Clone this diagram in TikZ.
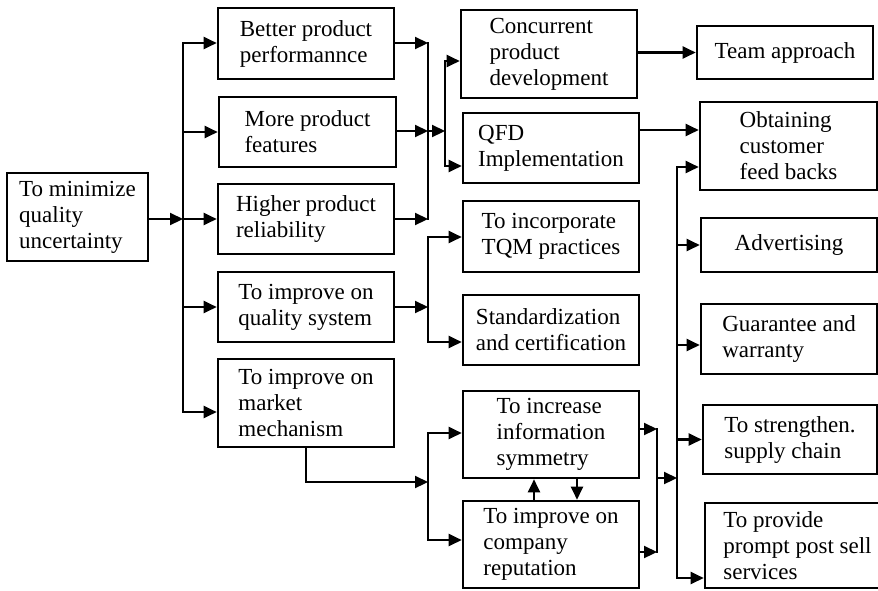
\documentclass[tikz,border=0pt]{standalone}
\usepackage{fontspec}
\setmainfont{Liberation Serif}
\usetikzlibrary{arrows.meta}
\begin{document}
\begin{tikzpicture}[x=1pt,y=-1pt,
  box/.style={draw, line width=2.6pt, inner sep=0pt, align=left,
    font=\fontsize{23}{26}\selectfont},
  link/.style={line width=2.2pt, line cap=rect},
  arr/.style={line width=2.2pt, -{Triangle[length=13pt,width=12pt]}}]
\useasboundingbox (0,0) rectangle (878,590);

% boxes
\node[box, minimum width=141pt, minimum height=88pt] (min) at (77.5,217) {To minimize\\quality\\uncertainty};
\node[box, minimum width=176pt, minimum height=71pt] (better) at (306,43.5) {Better product\\performannce};
\node[box, minimum width=177pt, minimum height=70pt] (more) at (307.5,132) {More product\\features};
\node[box, minimum width=176pt, minimum height=70pt] (higher) at (306,219) {Higher product\\reliability};
\node[box, minimum width=176pt, minimum height=70pt] (quality) at (306,307) {To improve on\\quality system};
\node[box, minimum width=176pt, minimum height=88pt] (market) at (306,403) {To improve on\\market\\mechanism};
\node[box, minimum width=176pt, minimum height=88pt] (conc) at (549,54) {Concurrent\\product\\development};
\node[box, minimum width=176pt, minimum height=70pt] (qfd) at (551,148) {QFD\\Implementation};
\node[box, minimum width=176pt, minimum height=71pt] (tqm) at (551,236.5) {To incorporate\\TQM practices};
\node[box, minimum width=176pt, minimum height=70pt] (std) at (551,330) {Standardization\\and certification};
\node[box, minimum width=176pt, minimum height=87pt] (info) at (551,434.5) {To increase\\information\\symmetry};
\node[box, minimum width=176pt, minimum height=87pt] (comp) at (551,544.5) {To improve on\\company\\reputation};
\node[box, minimum width=176pt, minimum height=53pt] (team) at (785,52.5) {Team approach};
\node[box, minimum width=177pt, minimum height=88pt] (obt) at (788.5,146) {Obtaining\\customer\\feed backs};
\node[box, minimum width=176pt, minimum height=54pt] (adv) at (789,245) {Advertising};
\node[box, minimum width=176pt, minimum height=70pt] (guar) at (789,339) {Guarantee and\\warranty};
\node[box, minimum width=174pt, minimum height=69pt] (str) at (790,439.5) {To strengthen.\\supply chain};
\node[box, minimum width=185pt, minimum height=85pt] (prompt) at (797.5,545.5) {To provide\\prompt post sell\\services};

% junction points
\coordinate (trTop) at (183,43);
\coordinate (trIn) at (183,219);
\coordinate (trBot) at (183,412);
\coordinate (m1top) at (428,43);
\coordinate (m1mid) at (428,131);
\coordinate (m1bot) at (428,219);
\coordinate (s1top) at (445,61);
\coordinate (s1bot) at (445,166);
\coordinate (qo) at (639,130);
\coordinate (s2top) at (428,237);
\coordinate (s2bot) at (428,342);
\coordinate (mk) at (306,482);
\coordinate (s3top) at (428,433);
\coordinate (s3bot) at (428,540);
\coordinate (up) at (534,490);
\coordinate (dn) at (577,490);
\coordinate (m3top) at (657,429);
\coordinate (m3mid) at (657,478);
\coordinate (m3bot) at (657,552);
\coordinate (bigTop) at (677,167);
\coordinate (gw) at (677,345);
\coordinate (bigBot) at (677,578);

% main trunk
\draw[arr] (min.east |- trIn) -- (trIn);
\draw[link] (trTop) -- (trBot);
\draw[arr] (trTop) -- (better.west |- trTop);
\draw[arr] (more.west -| trTop) -- (more.west);
\draw[arr] (trIn) -- (higher.west |- trIn);
\draw[arr] (quality.west -| trTop) -- (quality.west);
\draw[arr] (trBot) -- (market.west |- trBot);

% product branch
\draw[arr] (better.east |- m1top) -- (m1top);
\draw[arr] (more.east |- m1mid) -- (m1mid);
\draw[arr] (higher.east |- m1bot) -- (m1bot);
\draw[link] (m1top) -- (m1bot);
\draw[arr] (m1mid) -- (m1mid -| s1top);
\draw[link] (s1top) -- (s1bot);
\draw[arr] (s1top) -- (conc.west |- s1top);
\draw[arr] (s1bot) -- (qfd.west |- s1bot);
\draw[arr] (conc.east |- team.west) -- (team.west);
\draw[arr] (qfd.east |- qo) -- (obt.west |- qo);

% quality system branch
\draw[arr] (quality.east) -- (quality.east -| s2top);
\draw[link] (s2top) -- (s2bot);
\draw[arr] (s2top) -- (tqm.west |- s2top);
\draw[arr] (s2bot) -- (std.west |- s2bot);

% market mechanism branch
\draw[arr] (market.south) -- (mk) -- (mk -| s3top);
\draw[link] (s3top) -- (s3bot);
\draw[arr] (s3top) -- (info.west |- s3top);
\draw[arr] (s3bot) -- (comp.west |- s3bot);
\draw[arr] (comp.north -| up) -- (info.south -| up);
\draw[arr] (info.south -| dn) -- (comp.north -| dn);
\draw[arr] (info.east |- m3top) -- (m3top);
\draw[arr] (comp.east |- m3bot) -- (m3bot);
\draw[link] (m3top) -- (m3bot);
\draw[arr] (m3mid) -- (m3mid -| bigTop);

% outcomes
\draw[link] (bigTop) -- (bigBot);
\draw[arr] (bigTop) -- (obt.west |- bigTop);
\draw[arr] (adv.west -| bigTop) -- (adv.west);
\draw[arr] (gw) -- (guar.west |- gw);
\draw[arr] (str.west -| bigTop) -- (str.west);
\draw[arr] (bigBot) -- (prompt.west |- bigBot);
\end{tikzpicture}
\end{document}
